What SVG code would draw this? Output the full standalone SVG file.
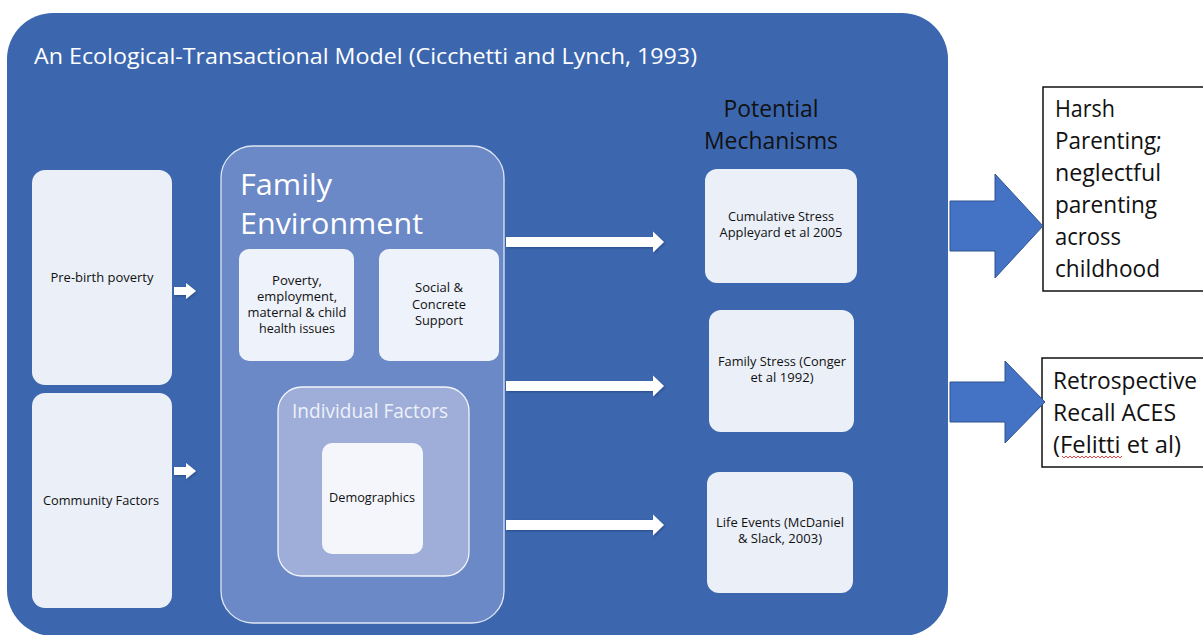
<svg xmlns="http://www.w3.org/2000/svg" width="1203" height="635" viewBox="0 0 1203 635">
  <defs>
    <filter id="softShadow" x="-10%" y="-40%" width="130%" height="200%">
      <feDropShadow dx="1" dy="1.2" stdDeviation="0.8" flood-color="#1c3566" flood-opacity="0.55"/>
    </filter>
    <style>
      text { font-family: "Open Sans", "Noto Sans", "Liberation Sans", sans-serif; }
      .frame { fill: #3c67af; }
      .card { fill: #eaeff8; }
      .light { fill: #eef2fa; }
      .family { fill: #6b88c7; stroke: #dfe6f4; stroke-width: 1.3; }
      .indiv { fill: #9eaed9; stroke: #f2f5fb; stroke-width: 1.3; }
      .demo { fill: #f4f6fb; }
      .small { font-size: 12.5px; fill: #111; text-anchor: middle; }
      .white { fill: #ffffff; }
      .arrow { fill: #ffffff; filter: url(#softShadow); }
      .bigArrow { fill: #4472c4; stroke: #2f528f; stroke-width: 1; }
      .outcome { fill: #ffffff; stroke: #111; stroke-width: 1.5; }
      .outText { font-size: 23px; fill: #111; }
    </style>
  </defs>

  <!-- outer model frame -->
  <g id="model-frame">
    <rect class="frame" x="7" y="13" width="941" height="623" rx="46" ry="46"/>
    <text x="34" y="64" font-size="22.5" class="white" textLength="663" lengthAdjust="spacingAndGlyphs">An Ecological-Transactional Model (Cicchetti and Lynch, 1993)</text>
  </g>

  <!-- left column -->
  <g id="pre-birth-poverty">
    <rect class="card" x="32" y="170" width="140" height="215" rx="13"/>
    <text class="small" x="102" y="282" textLength="103" lengthAdjust="spacingAndGlyphs">Pre-birth poverty</text>
  </g>
  <g id="community-factors">
    <rect class="card" x="32" y="393" width="140" height="215" rx="13"/>
    <text class="small" x="101" y="505" textLength="116" lengthAdjust="spacingAndGlyphs">Community Factors</text>
  </g>

  <!-- family environment -->
  <g id="family-environment">
    <rect class="family" x="221" y="146" width="283" height="477" rx="32"/>
    <text x="240" y="195" font-size="30" class="white" textLength="92" lengthAdjust="spacingAndGlyphs">Family</text>
    <text x="240" y="234" font-size="30" class="white" textLength="183" lengthAdjust="spacingAndGlyphs">Environment</text>
  </g>
  <g id="poverty-employment">
    <rect class="light" x="239" y="249" width="115" height="112" rx="10"/>
    <text class="small" x="297" y="285" textLength="50" lengthAdjust="spacingAndGlyphs">Poverty,</text>
    <text class="small" x="297" y="301" textLength="80" lengthAdjust="spacingAndGlyphs">employment,</text>
    <text class="small" x="297" y="317" textLength="99" lengthAdjust="spacingAndGlyphs">maternal &amp; child</text>
    <text class="small" x="297" y="333" textLength="76" lengthAdjust="spacingAndGlyphs">health issues</text>
  </g>
  <g id="social-support">
    <rect class="light" x="379" y="249" width="120" height="112" rx="10"/>
    <text class="small" x="439" y="292" textLength="48" lengthAdjust="spacingAndGlyphs">Social &amp;</text>
    <text class="small" x="439" y="309" textLength="54" lengthAdjust="spacingAndGlyphs">Concrete</text>
    <text class="small" x="439" y="325" textLength="48" lengthAdjust="spacingAndGlyphs">Support</text>
  </g>
  <g id="individual-factors">
    <rect class="indiv" x="278" y="387" width="191" height="189" rx="24"/>
    <text x="292" y="418" font-size="19.5" fill="#eef1f9" textLength="156" lengthAdjust="spacingAndGlyphs">Individual Factors</text>
  </g>
  <g id="demographics">
    <rect class="demo" x="322" y="443" width="101" height="111" rx="10"/>
    <text class="small" x="372" y="502" textLength="86" lengthAdjust="spacingAndGlyphs">Demographics</text>
  </g>

  <!-- potential mechanisms -->
  <g id="mechanisms-heading">
    <text x="771" y="117" font-size="23.5" fill="#111" text-anchor="middle" textLength="95" lengthAdjust="spacingAndGlyphs">Potential</text>
    <text x="771" y="149" font-size="23.5" fill="#111" text-anchor="middle" textLength="134" lengthAdjust="spacingAndGlyphs">Mechanisms</text>
  </g>
  <g id="cumulative-stress">
    <rect class="card" x="705" y="169" width="152" height="114" rx="12"/>
    <text class="small" x="781" y="221" textLength="106" lengthAdjust="spacingAndGlyphs">Cumulative Stress</text>
    <text class="small" x="781" y="237" textLength="123" lengthAdjust="spacingAndGlyphs">Appleyard et al 2005</text>
  </g>
  <g id="family-stress">
    <rect class="card" x="709" y="310" width="145" height="122" rx="12"/>
    <text class="small" x="782" y="366" textLength="128" lengthAdjust="spacingAndGlyphs">Family Stress (Conger</text>
    <text class="small" x="782" y="382" textLength="63" lengthAdjust="spacingAndGlyphs">et al 1992)</text>
  </g>
  <g id="life-events">
    <rect class="card" x="707" y="472" width="146" height="121" rx="12"/>
    <text class="small" x="780" y="527" textLength="128" lengthAdjust="spacingAndGlyphs">Life Events (McDaniel</text>
    <text class="small" x="780" y="543" textLength="84" lengthAdjust="spacingAndGlyphs">&amp; Slack, 2003)</text>
  </g>

  <!-- outcomes -->
  <g id="harsh-parenting">
    <rect class="outcome" x="1043" y="87" width="200" height="204"/>
    <text class="outText" x="1055" y="117" textLength="60" lengthAdjust="spacingAndGlyphs">Harsh</text>
    <text class="outText" x="1055" y="149" textLength="107" lengthAdjust="spacingAndGlyphs">Parenting;</text>
    <text class="outText" x="1055" y="181" textLength="106" lengthAdjust="spacingAndGlyphs">neglectful</text>
    <text class="outText" x="1055" y="213" textLength="102" lengthAdjust="spacingAndGlyphs">parenting</text>
    <text class="outText" x="1055" y="245" textLength="66" lengthAdjust="spacingAndGlyphs">across</text>
    <text class="outText" x="1055" y="277" textLength="105" lengthAdjust="spacingAndGlyphs">childhood</text>
  </g>
  <g id="retrospective-recall">
    <rect class="outcome" x="1042" y="358" width="200" height="109"/>
    <text class="outText" x="1053" y="389" textLength="144" lengthAdjust="spacingAndGlyphs">Retrospective</text>
    <text class="outText" x="1053" y="421" textLength="123" lengthAdjust="spacingAndGlyphs">Recall ACES</text>
    <text class="outText" x="1053" y="453" textLength="128" lengthAdjust="spacingAndGlyphs">(Felitti et al)</text>
    <!-- spell-check squiggle under the author name -->
    <path d="M1062,456 l2,2 l2,-2 l2,2 l2,-2 l2,2 l2,-2 l2,2 l2,-2 l2,2 l2,-2 l2,2 l2,-2 l2,2 l2,-2 l2,2 l2,-2 l2,2 l2,-2 l2,2 l2,-2 l2,2 l2,-2 l2,2 l2,-2 l2,2 l2,-2 l2,2 l2,-2 l2,2 l2,-2" fill="none" stroke="#e0332f" stroke-width="0.9"/>
  </g>

  <!-- connectors -->
  <g id="connectors">
    <path class="arrow" d="M174,287 H186 V283 L196,291 L186,299 V295 H174 Z"/>
    <path class="arrow" d="M174,467 H186 V463 L196,471 L186,479 V475 H174 Z"/>
    <path class="arrow" d="M506,237 H653 V231.5 L664,242 L653,252.5 V247 H506 Z"/>
    <path class="arrow" d="M506,381 H653 V375.5 L664,386 L653,396.5 V391 H506 Z"/>
    <path class="arrow" d="M506,520 H653 V514.5 L664,525 L653,535.5 V530 H506 Z"/>
    <path class="bigArrow" d="M950,201 H995 V174 L1043,226 L995,278 V251 H950 Z"/>
    <path class="bigArrow" d="M950,382 H1005 V361 L1045,402 L1005,443 V422 H950 Z"/>
  </g>
</svg>
